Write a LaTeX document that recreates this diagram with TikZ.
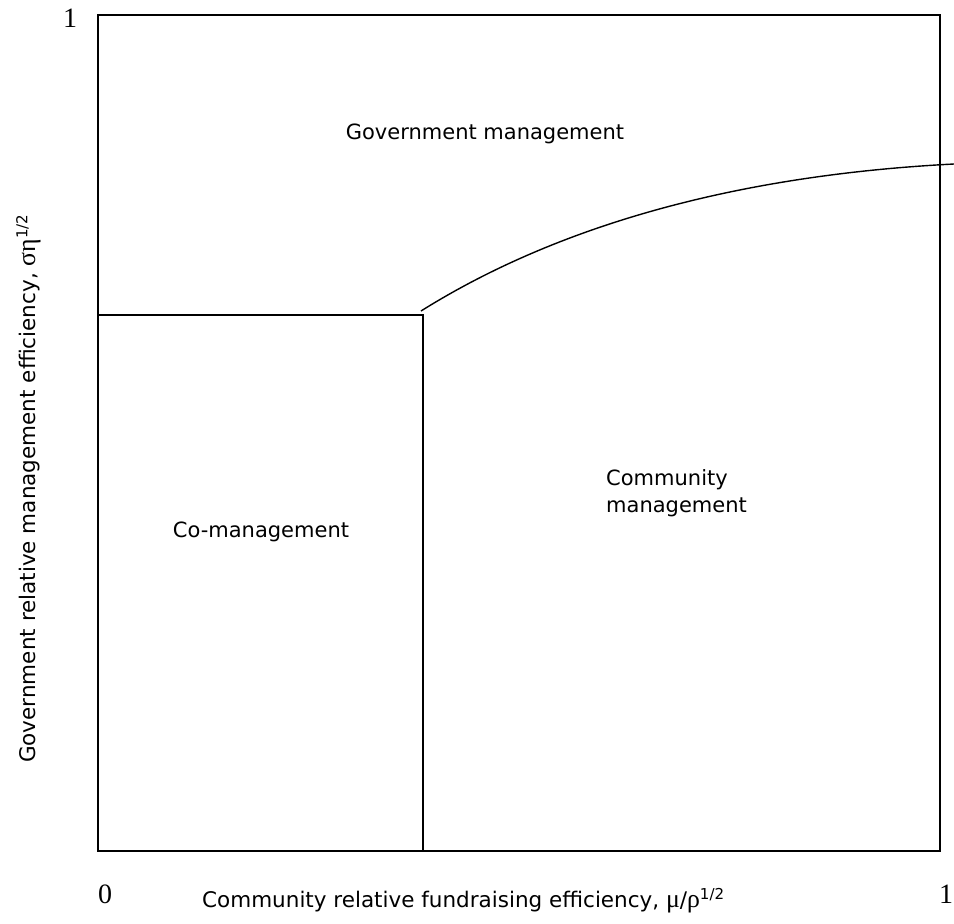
\documentclass[tikz,border=0pt]{standalone}
\usepackage{fontspec}
\setmainfont{DejaVu Sans}
\newfontfamily\numfont{Liberation Serif}
\newfontfamily\grkfont[Scale=1.2]{Liberation Serif}
\begin{document}
\begin{tikzpicture}[x=1pt,y=-1pt,
  lbl/.style={font=\fontsize{21}{27}\selectfont, inner sep=0pt},
  axlbl/.style={font=\fontsize{21.5}{27}\selectfont, inner sep=0pt},
  num/.style={font=\numfont\fontsize{28}{30}\selectfont, inner sep=0pt},
  frameline/.style={line width=1.4pt}]
\useasboundingbox (0,0) rectangle (954,924);
\coordinate (tl) at (98,15);
\coordinate (br) at (940,851);
\coordinate (corner) at (423,315);
\coordinate (cbot) at (423,851);
\coordinate (cleft) at (98,315);
\coordinate (cstart) at (421,311);
\coordinate (cend) at (954,164);
\draw[frameline] (tl) rectangle (br);
\draw[frameline] (cleft) -- (corner) -- (cbot);
\draw[frameline] (cstart) .. controls (560,224) and (740,175) .. (cend);
\node[num, anchor=base] (one) at (70,27) {1};
\node[num, anchor=base] (zero) at (105,903) {0};
\node[num, anchor=base] (onex) at (946,903) {1};
\node[lbl] (gov) at (485,134) {Government management};
\node[lbl] (co) at (261,532) {Co-management};
\node[lbl, align=left, anchor=north west] (com) at (606,469) {Community\\management};
\node[axlbl, anchor=base west] (xl) at (202,907) {Community relative fundraising efficiency, {\grkfont μ}/{\grkfont ρ}\textsuperscript{1/2}};
\node[axlbl, rotate=90, anchor=base east] (yl) at (35,214) {Government relative management efficiency, {\grkfont ση}\textsuperscript{1/2}};
\end{tikzpicture}
\end{document}
